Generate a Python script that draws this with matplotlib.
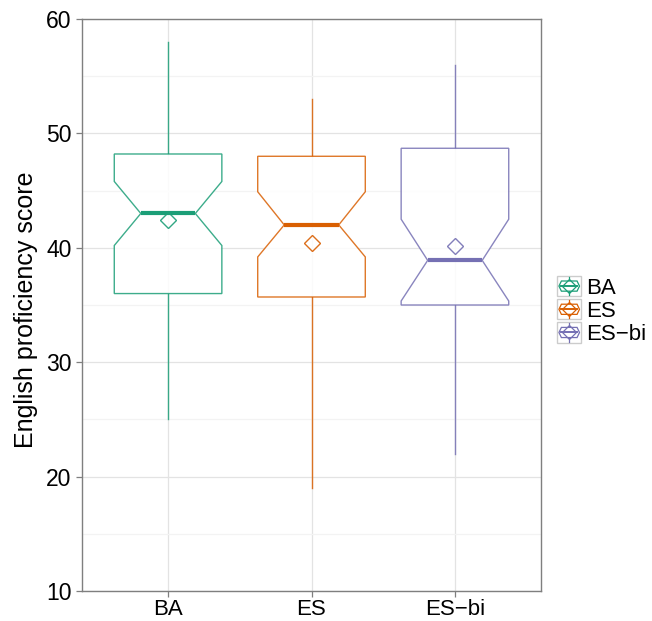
import matplotlib
matplotlib.use("Agg")
import matplotlib.pyplot as plt
from matplotlib.legend_handler import HandlerBase
from matplotlib.patches import Rectangle, Polygon
from matplotlib.lines import Line2D

plt.rcParams['font.family'] = ['Liberation Sans', 'DejaVu Sans']

# ---- data ----
groups = ["BA", "ES", "ES\u2212bi"]
whisker_low = [25.0, 19.0, 22.0]
q1 = [36.0, 35.7, 35.0]
median = [43.0, 42.0, 38.9]
q3 = [48.2, 48.0, 48.7]
whisker_high = [58.0, 53.0, 56.0]
notch_low = [40.2, 39.2, 35.35]
notch_high = [45.8, 44.9, 42.5]
means = [42.4, 40.4, 40.2]
colors = ["#1B9E77", "#D95F02", "#7570B3"]

fig = plt.figure(figsize=(6.52, 6.21), dpi=100)
ax = fig.add_axes([82/652, 30/621, (541-82)/652, (591-19)/621])

box_hw = 0.375
notch_hw = 0.19

for i, g in enumerate(groups):
    x = i + 1
    c = colors[i]
    ax.plot([x, x], [whisker_low[i], q1[i]], color=c, lw=1.0, alpha=0.85, zorder=3)
    ax.plot([x, x], [q3[i], whisker_high[i]], color=c, lw=1.0, alpha=0.85, zorder=3)
    pts = [
        (x - box_hw, q1[i]), (x - box_hw, notch_low[i]), (x - notch_hw, median[i]),
        (x - box_hw, notch_high[i]), (x - box_hw, q3[i]), (x + box_hw, q3[i]),
        (x + box_hw, notch_high[i]), (x + notch_hw, median[i]), (x + box_hw, notch_low[i]),
        (x + box_hw, q1[i]),
    ]
    ax.add_patch(Polygon(pts, closed=True, facecolor="white", edgecolor=c,
                         lw=1.0, alpha=0.85, zorder=3))
    ax.plot([x - notch_hw, x + notch_hw], [median[i], median[i]], color=c,
            lw=3.0, solid_capstyle="butt", zorder=4)
    ax.plot([x], [means[i]], marker="D", ms=8.2, mfc="none", mec=c, mew=1.0,
            alpha=0.9, zorder=5)

ax.set_xlim(0.4, 3.6)
ax.set_ylim(10, 60)
ax.set_xticks([1, 2, 3])
ax.set_xticklabels(groups)
ax.set_yticks([10, 20, 30, 40, 50, 60])
ax.set_yticks([15, 25, 35, 45, 55], minor=True)
ax.grid(True, which="major", color="#e3e3e3", lw=0.9, zorder=0)
ax.grid(True, which="minor", axis="y", color="#f3f3f3", lw=0.9, zorder=0)
ax.set_axisbelow(True)
for s in ax.spines.values():
    s.set_color("#7f7f7f")
    s.set_linewidth(1.0)
ax.tick_params(axis="both", which="major", labelsize=16.5, colors="#7f7f7f",
               labelcolor="black", length=4, width=0.9, pad=3.5)
ax.tick_params(axis="x", which="major", labelsize=16, pad=2)
ax.tick_params(axis="y", which="minor", length=0)
ax.set_ylabel("English proficiency score", fontsize=18)
ax.yaxis.set_label_coords(-0.096, 0.492)


class BoxHandler(HandlerBase):
    def __init__(self, color):
        super().__init__()
        self.color = color

    def create_artists(self, legend, orig_handle, xdescent, ydescent, width, height, fontsize, trans):
        c = self.color
        x0, y0 = -xdescent, -ydescent
        cx = x0 + width / 2
        ym = y0 + height / 2
        arts = []
        arts.append(Rectangle((x0, y0), width, height, facecolor="white",
                              edgecolor="#cccccc", lw=1.0, transform=trans))
        arts.append(Line2D([cx, cx], [y0 + 0.05 * height, y0 + 0.95 * height],
                           color=c, lw=0.9, transform=trans))
        bw = 0.32 * width
        bh = 0.25 * height
        pts = [(cx - bw, ym - bh), (cx - bw - 0.1 * width, ym), (cx - bw, ym + bh),
               (cx + bw, ym + bh), (cx + bw + 0.1 * width, ym), (cx + bw, ym - bh)]
        arts.append(Polygon(pts, closed=True, facecolor="white", edgecolor=c,
                            lw=0.9, transform=trans))
        arts.append(Line2D([cx - bw, cx + bw], [ym, ym], color=c, lw=1.4, transform=trans))
        arts.append(Line2D([cx], [ym], marker="D", ms=7, mfc="none", mec=c, mew=0.9,
                           transform=trans))
        return arts


handles = [Rectangle((0, 0), 1, 1) for _ in groups]
handler_map = {h: BoxHandler(colors[i]) for i, h in enumerate(handles)}
leg = fig.legend(handles, groups, handler_map=handler_map, loc="center left",
                 bbox_to_anchor=(557/652, 1 - 310.5/621), frameon=False, fontsize=16,
                 handlelength=1.1, handleheight=1.03, handletextpad=0.22,
                 labelspacing=0.02, borderpad=0, borderaxespad=0)

fig.savefig("out.png", dpi=100)
